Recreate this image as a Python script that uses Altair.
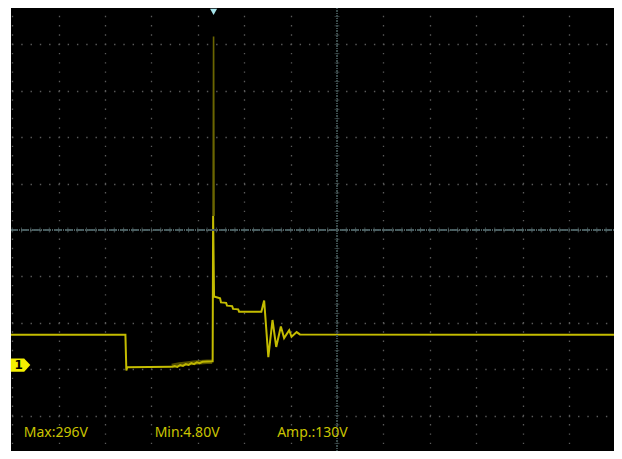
import altair as alt
import pandas as pd

# ---- data (time and voltage in screen divisions, centre = 0,0) ----
t_main = [-7.03, -4.56, -4.54, -4.52, -3.56, -3.50, -3.44, -3.38, -3.32, -3.26,
          -3.20, -3.14, -3.08, -3.02, -2.96, -2.90, -2.68, -2.67, -2.65, -2.63,
          -2.52, -2.50, -2.39, -2.37, -2.26, -2.24, -2.13, -2.11, -1.63, -1.57,
          -1.48, -1.39, -1.31, -1.21, -1.14, -1.03, -0.98, -0.87, -0.80, 6.15]
v_main = [-2.26, -2.26, -3.03, -2.96, -2.95, -2.93, -2.95, -2.91, -2.93, -2.89,
          -2.91, -2.87, -2.89, -2.85, -2.87, -2.84, -2.83, 0.30, -1.44, -1.44,
          -1.47, -1.56, -1.57, -1.63, -1.64, -1.70, -1.71, -1.76, -1.76, -1.52,
          -2.74, -1.94, -2.52, -2.08, -2.33, -2.16, -2.30, -2.20, -2.25, -2.26]
# noisy (persisted) band before the switching edge
t_band = [-3.56, -3.40, -3.25, -3.10, -2.95, -2.80, -2.69]
v_band = [-2.93, -2.90, -2.88, -2.86, -2.85, -2.84, -2.84]
t_spike = [-2.67, -2.66, -2.65]
v_spike = [0.30, 4.17, 0.30]

meas_text = ["Max:296V", "Min:4.80V", "Amp.:130V"]
meas_t = [-6.75, -3.93, -1.29]
meas_v = [-4.37, -4.37, -4.37]

ch_t = [-6.82]
ch_v = [-2.91]
trig_t = [-2.66]
trig_v = [4.70]

grid_major = list(range(-7, 7))
grid_major_v = list(range(-4, 5))
centre_ticks_t = [round(-7 + 0.2 * i, 2) for i in range(67)]
centre_ticks_v = [round(-4.8 + 0.2 * i, 2) for i in range(49)]

XDOM = [-7.026, 5.970]
YDOM = [-4.763, 4.784]
W, H = 603, 443

main_df = pd.DataFrame({"t": t_main, "v": v_main})
main_df["idx"] = range(len(main_df))
band_df = pd.DataFrame({"t": t_band, "v": v_band})
spike_df = pd.DataFrame({"t": t_spike, "v": v_spike})
spike_df["idx"] = range(len(spike_df))
meas_df = pd.DataFrame({"t": meas_t, "v": meas_v, "txt": meas_text})
ch_df = pd.DataFrame({"t": ch_t, "v": ch_v})
trig_df = pd.DataFrame({"t": trig_t, "v": trig_v})
ctx_df = pd.DataFrame({"t": centre_ticks_t})
cty_df = pd.DataFrame({"v": centre_ticks_v})

xs = alt.Scale(domain=XDOM, nice=False, zero=False)
ys = alt.Scale(domain=YDOM, nice=False, zero=False)

xax = alt.Axis(values=grid_major, grid=True, gridDash=[1.4, 7.88], gridDashOffset=2,
               gridColor="#5a5a5a", gridWidth=1.3, domain=False, ticks=False,
               labels=False, title=None)
yax = alt.Axis(values=grid_major_v, grid=True, gridDash=[1.4, 7.88], gridDashOffset=8.8,
               gridColor="#5a5a5a", gridWidth=1.3, domain=False, ticks=False,
               labels=False, title=None)

trace = alt.Chart(main_df).mark_line(color="#c4bc00", strokeWidth=2, clip=True).encode(
    x=alt.X("t:Q", scale=xs, axis=xax), y=alt.Y("v:Q", scale=ys, axis=yax), order="idx:Q")

band = alt.Chart(band_df).mark_line(color="#b8b000", strokeWidth=4.5, opacity=0.45,
                                    clip=True).encode(
    x=alt.X("t:Q", scale=xs), y=alt.Y("v:Q", scale=ys))

spike = alt.Chart(spike_df).mark_line(color="#6a6500", strokeWidth=1.6, clip=True).encode(
    x=alt.X("t:Q", scale=xs), y=alt.Y("v:Q", scale=ys), order="idx:Q")

centre_v = alt.Chart(main_df).mark_rule(color="#3e4e50", strokeDash=[1, 1.5], strokeWidth=1).encode(
    x=alt.datum(0, scale=xs))
centre_h = alt.Chart(main_df).mark_rule(color="#4e6264", strokeDash=[1, 1.2], strokeWidth=1).encode(
    y=alt.datum(0, scale=ys))
ticks_x = alt.Chart(ctx_df).mark_tick(orient="vertical", size=5, thickness=1, color="#56696b").encode(
    x=alt.X("t:Q", scale=xs), y=alt.datum(0, scale=ys))
ticks_y = alt.Chart(cty_df).mark_tick(orient="horizontal", size=5, thickness=1, color="#3e4e50").encode(
    y=alt.Y("v:Q", scale=ys), x=alt.datum(0, scale=xs))

meas = alt.Chart(meas_df).mark_text(align="left", baseline="middle", font="Noto Sans",
                                    fontSize=14, color="#cbc400").encode(
    x=alt.X("t:Q", scale=xs), y=alt.Y("v:Q", scale=ys), text="txt:N")

ch_marker = alt.Chart(ch_df).mark_point(
    shape="M-1,-0.68L0.37,-0.68L1,0L0.37,0.68L-1,0.68Z", size=380, filled=True,
    color="#f4f000", opacity=1, strokeWidth=0).encode(
    x=alt.X("t:Q", scale=xs), y=alt.Y("v:Q", scale=ys))
ch_label = alt.Chart(ch_df).mark_text(text="1", fontSize=12, fontWeight="bold", color="#000000",
                                      font="DejaVu Sans", dx=-2, baseline="middle").encode(
    x=alt.X("t:Q", scale=xs), y=alt.Y("v:Q", scale=ys))

trig = alt.Chart(trig_df).mark_point(shape="triangle-down", size=50, filled=True,
                                     color="#a6e3ea", opacity=1).encode(
    x=alt.X("t:Q", scale=xs), y=alt.Y("v:Q", scale=ys))

chart = alt.layer(trace, band, centre_v, centre_h, ticks_x, ticks_y, spike, meas, ch_marker,
                  ch_label, trig).properties(
    width=W, height=H, padding={"left": 3, "top": 0, "right": 0, "bottom": 0},
    autosize=alt.AutoSizeParams(type="none"), background="#ffffff"
).configure_view(fill="#000000", stroke=None)

chart.save("out.html", embed_options={"renderer": "svg", "actions": False})
